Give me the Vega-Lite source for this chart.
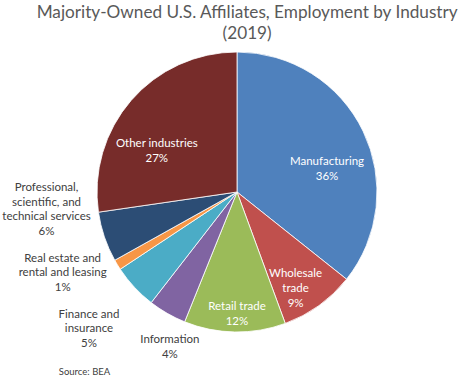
{
  "$schema": "https://vega.github.io/schema/vega-lite/v6.json",
  "padding": {"left": 2, "top": 3, "right": 0, "bottom": 0},
  "title": {
    "text": ["Majority-Owned U.S. Affiliates, Employment by Industry", "(2019)"],
    "fontSize": 17.2, "font": "Lato", "fontWeight": "normal", "color": "#595959",
    "anchor": "middle", "dx": 11, "dy": 4, "lineHeight": 21, "offset": -18
  },
  "config": {"view": {"stroke": null}, "font": "Lato"},
  "datasets": {
    "d": [
      {"industry": "Manufacturing", "pct": 35.7, "label": "Manufacturing\n36%"},
      {"industry": "Wholesale trade", "pct": 8.7, "label": "Wholesale\ntrade\n9%"},
      {"industry": "Retail trade", "pct": 11.7, "label": "Retail trade\n12%"},
      {"industry": "Information", "pct": 4.4, "label": "Information\n4%"},
      {"industry": "Finance and insurance", "pct": 5.2, "label": "Finance and\ninsurance\n5%"},
      {"industry": "Real estate and rental and leasing", "pct": 1.2, "label": "Real estate and\nrental and leasing\n1%"},
      {"industry": "Professional, scientific, and technical services", "pct": 5.8, "label": "Professional,\nscientific, and\ntechnical services\n6%"},
      {"industry": "Other industries", "pct": 27.3, "label": "Other industries\n27%"}
    ]
  },
  "bounds": "flush",
  "spacing": 30,
  "vconcat": [
    {
      "width": 466, "height": 280,
      "data": {"name": "d"},
      "transform": [{"window": [{"op": "row_number", "as": "idx"}]}],
      "encoding": {
        "theta": {"field": "pct", "type": "quantitative", "stack": true},
        "order": {"field": "idx", "type": "quantitative"},
        "detail": {"field": "industry", "type": "nominal"}
      },
      "layer": [
        {
          "mark": {"type": "arc", "outerRadius": 140, "stroke": "#ffffff", "strokeWidth": 0.8},
          "encoding": {
            "color": {
              "field": "industry", "type": "nominal", "legend": null,
              "scale": {
                "domain": ["Manufacturing", "Wholesale trade", "Retail trade", "Information", "Finance and insurance", "Real estate and rental and leasing", "Professional, scientific, and technical services", "Other industries"],
                "range": ["#4F81BD", "#C0504D", "#9BBB59", "#8064A2", "#4BACC6", "#F79646", "#2C4D75", "#772C2A"]
              }
            }
          }
        },
        {
          "mark": {"type": "text", "radius": 94, "thetaOffset": 0.157, "dy": -3, "color": "#ffffff", "fontSize": 11.5, "lineBreak": "\n", "lineHeight": 15},
          "encoding": {"text": {"condition": {"test": "datum.industry === 'Manufacturing'", "field": "label"}, "value": ""}}
        },
        {
          "mark": {"type": "text", "radius": 108, "thetaOffset": 0.052, "dy": -9, "color": "#ffffff", "fontSize": 11.5, "lineBreak": "\n", "lineHeight": 15},
          "encoding": {"text": {"condition": {"test": "datum.industry === 'Wholesale trade'", "field": "label"}, "value": ""}}
        },
        {
          "mark": {"type": "text", "radius": 118, "thetaOffset": 0.01, "dx": 3, "dy": -3, "color": "#ffffff", "fontSize": 11.5, "lineBreak": "\n", "lineHeight": 15},
          "encoding": {"text": {"condition": {"test": "datum.industry === 'Retail trade'", "field": "label"}, "value": ""}}
        },
        {
          "mark": {"type": "text", "radius": 92, "thetaOffset": -0.201, "dy": -3, "color": "#ffffff", "fontSize": 11.5, "lineBreak": "\n", "lineHeight": 15},
          "encoding": {"text": {"condition": {"test": "datum.industry === 'Other industries'", "field": "label"}, "value": ""}}
        },
        {
          "mark": {"type": "text", "radius": 169, "thetaOffset": -0.087, "dx": 4, "dy": -5, "color": "#404040", "fontSize": 11.5, "lineBreak": "\n", "lineHeight": 14.5},
          "encoding": {"text": {"condition": {"test": "datum.industry === 'Information'", "field": "label"}, "value": ""}}
        },
        {
          "mark": {"type": "text", "radius": 200, "thetaOffset": 0.01, "dy": -12, "color": "#404040", "fontSize": 11.5, "lineBreak": "\n", "lineHeight": 14.5},
          "encoding": {"text": {"condition": {"test": "datum.industry === 'Finance and insurance'", "field": "label"}, "value": ""}}
        },
        {
          "mark": {"type": "text", "radius": 191, "thetaOffset": 0.126, "dy": -11, "color": "#404040", "fontSize": 11.5, "lineBreak": "\n", "lineHeight": 14.5},
          "encoding": {"text": {"condition": {"test": "datum.industry === 'Real estate and rental and leasing'", "field": "label"}, "value": ""}}
        },
        {
          "mark": {"type": "text", "radius": 190.5, "thetaOffset": 0.347, "color": "#404040", "fontSize": 11.5, "lineBreak": "\n", "lineHeight": 14.5},
          "encoding": {"text": {"condition": {"test": "datum.industry === 'Professional, scientific, and technical services'", "field": "label"}, "value": ""}}
        }
      ]
    },
    {
      "width": 161, "height": 20,
      "data": {"values": [{"note": "Source: BEA"}]},
      "mark": {"type": "text", "fontSize": 9.5, "color": "#404040"},
      "encoding": {"text": {"field": "note", "type": "nominal"}}
    }
  ]
}
